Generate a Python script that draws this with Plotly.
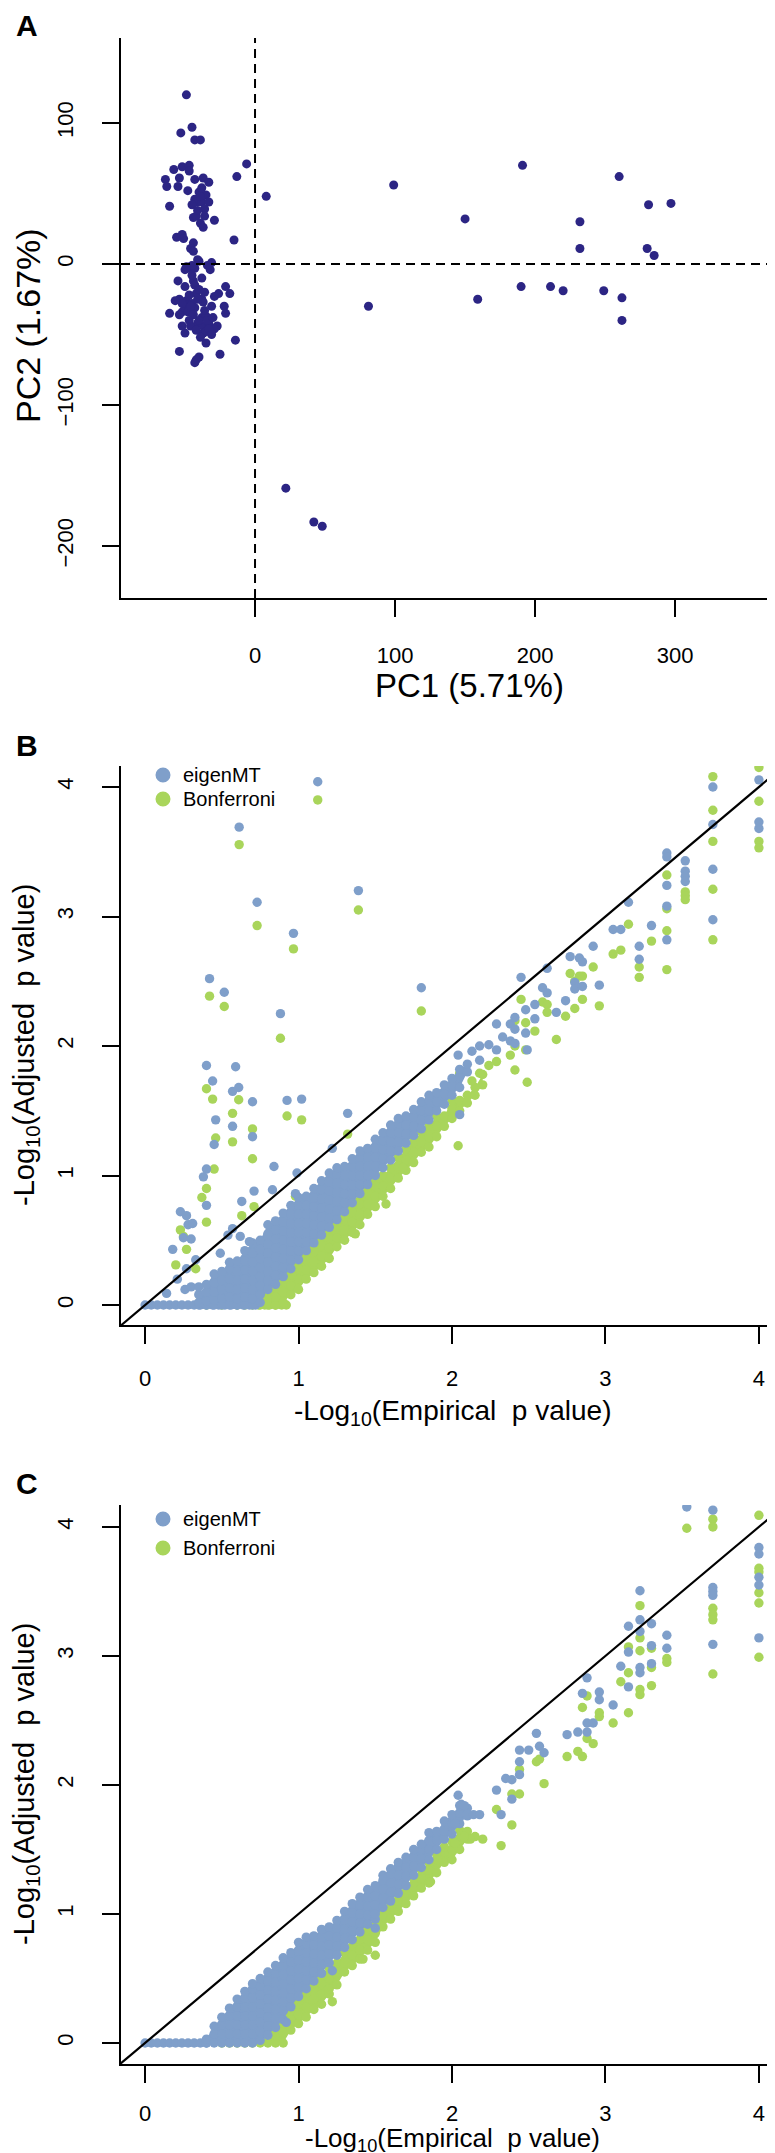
import plotly.graph_objects as go

W, H = 775, 2153
FONT = "Liberation Sans, Arial, Helvetica, sans-serif"
NAVY = "#2C2584"
BLUE = "#7F9FCA"
GREEN = "#A9D55B"

# ---------------- Panel A : PCA ----------------
pca_points = [
    (-49, 120), (-45, 97), (-53, 93), (-43, 88), (-39, 88), (-6, 71), (-13, 62), (8, 48),
    (-64, 60), (-63, 55), (-58, 67), (-52, 69), (-47, 70), (-47, 66), (-54, 61), (-55, 55),
    (-43, 60), (-37, 61), (-33, 58), (-40, 51), (-35, 49), (-43, 46), (-42, 44), (-38, 44),
    (-33, 44), (-61, 41), (-45, 42), (-36, 39), (-44, 33), (-42, 34), (-36, 34), (-29, 31),
    (-39, 29), (-37, 26), (-15, 17), (-56, 19), (-52, 21), (-51, 18), (-44, 15), (-46, 11),
    (-44, 9), (-40, 2), (-47, -3), (-43, -3), (-50, -4), (-31, 1), (-32, -4), (-45, -1),
    (-34, -1), (-50, -16), (-44, -12), (-43, -15), (-21, -16), (-18, -21), (-26, -21),
    (-29, -23), (-54, -25), (-49, -26), (-45, -28), (-42, -21), (-38, -25), (-37, -27),
    (-61, -35), (-52, -34), (-50, -31), (-54, -36), (-48, -34), (-31, -30), (-22, -30),
    (-21, -35), (-43, -31), (-38, -38), (-35, -37), (-41, -42), (-37, -44), (-33, -42),
    (-27, -44), (-29, -46), (-50, -49), (-37, -49), (-35, -48), (-14, -54), (-35, -56),
    (-54, -62), (-25, -64), (-40, -66), (-42, -68), (-43, -70), (-40, -40), (-44, -36),
    (-46, -44), (-42, -47), (-39, -52), (-33, -46), (-36, -33), (-47, -22), (-40, -18),
    (-52, -28), (-57, -26), (-45, -8), (-38, -10), (-48, 52), (-41, 38), (-39, 48),
    (-38, 54), (-41, -25), (-46, -30), (-34, -40), (-31, -50), (-47, -40), (-52, -44),
    (-36, -20), (-55, -12), (-30, -38), (-41, 3), (-49, -2),
    (99, 56), (150, 32), (191, 70), (260, 62), (281, 42), (297, 43), (232, 30), (232, 11),
    (280, 11), (285, 6), (81, -30), (159, -25), (190, -16), (211, -16), (220, -19),
    (249, -19), (262, -24), (262, -40), (22, -159), (42, -183), (48, -186),
]
pca_xticks = [0, 100, 200, 300]
pca_yticks = [-200, -100, 0, 100]

# ---------------- Panel B ----------------
B_zero_blue = [0.0, 0.04, 0.08, 0.12, 0.16, 0.2, 0.24, 0.28, 0.32, 0.36, 0.4, 0.44, 0.48,
               0.52, 0.56, 0.6, 0.64, 0.68, 0.72]
B_zero_green = [0.74, 0.78, 0.81, 0.85, 0.89, 0.92]
B_blue_cols = [
    (0.35, [0.0, 0.02, 0.08]), (0.40, [0.0, 0.03, 0.10, 0.16]), (0.45, [0.0, 0.04, 0.10, 0.17, 0.24]),
    (0.50, [0.0, 0.05, 0.12, 0.19, 0.26]), (0.55, [0.0, 0.06, 0.13, 0.20, 0.28, 0.33]),
    (0.60, [0.0, 0.05, 0.12, 0.19, 0.26, 0.34]), (0.65, [0.0, 0.06, 0.13, 0.20, 0.27, 0.34, 0.42]),
    (0.70, [0.0, 0.05, 0.12, 0.19, 0.26, 0.33, 0.40, 0.48]),
    (0.75, [0.02, 0.08, 0.15, 0.22, 0.29, 0.36, 0.43, 0.50]),
    (0.80, [0.12, 0.19, 0.26, 0.33, 0.40, 0.47, 0.55, 0.62]),
    (0.85, [0.16, 0.23, 0.30, 0.37, 0.44, 0.51, 0.58, 0.65]),
    (0.90, [0.22, 0.29, 0.36, 0.43, 0.50, 0.57, 0.64, 0.71]),
    (0.95, [0.28, 0.35, 0.42, 0.49, 0.56, 0.63, 0.70, 0.77]),
    (1.00, [0.35, 0.42, 0.49, 0.56, 0.63, 0.70, 0.77, 0.83]),
    (1.05, [0.42, 0.49, 0.56, 0.63, 0.70, 0.77, 0.84]),
    (1.10, [0.48, 0.55, 0.62, 0.69, 0.76, 0.83, 0.90]),
    (1.15, [0.54, 0.61, 0.68, 0.75, 0.82, 0.89, 0.96]),
    (1.20, [0.60, 0.67, 0.74, 0.81, 0.88, 0.95, 1.02]),
    (1.25, [0.66, 0.73, 0.80, 0.87, 0.94, 1.01, 1.06]),
    (1.30, [0.72, 0.79, 0.86, 0.93, 1.00, 1.07]),
    (1.35, [0.79, 0.86, 0.93, 1.00, 1.07, 1.13]),
    (1.40, [0.86, 0.93, 1.00, 1.07, 1.14, 1.19]),
    (1.45, [0.93, 1.00, 1.07, 1.14, 1.21]), (1.50, [1.00, 1.07, 1.14, 1.21, 1.28]),
    (1.55, [1.06, 1.13, 1.20, 1.27, 1.33]), (1.60, [1.12, 1.19, 1.26, 1.33, 1.39]),
    (1.65, [1.19, 1.26, 1.33, 1.40, 1.44]), (1.70, [1.25, 1.32, 1.39, 1.46]),
    (1.75, [1.31, 1.38, 1.45, 1.51]), (1.80, [1.36, 1.43, 1.50, 1.57]),
    (1.85, [1.43, 1.50, 1.58, 1.62]), (1.90, [1.50, 1.57, 1.64]),
    (1.95, [1.55, 1.63, 1.70]), (2.00, [1.62, 1.70, 1.75]), (2.05, [1.68, 1.77, 1.82]),
    (2.10, [1.80, 1.86]),
]
B_green_cols = [
    (0.40, [0.0]), (0.50, [0.0, 0.07]), (0.60, [0.0, 0.06, 0.12]), (0.65, [0.0, 0.08, 0.18]),
    (0.70, [0.0, 0.06, 0.15, 0.25]), (0.75, [0.0, 0.07, 0.14, 0.22]),
    (0.80, [0.0, 0.05, 0.12, 0.20, 0.30]), (0.85, [0.0, 0.06, 0.13, 0.22, 0.32]),
    (0.90, [0.02, 0.10, 0.18, 0.27, 0.36]), (0.95, [0.08, 0.15, 0.23, 0.31, 0.40]),
    (1.00, [0.12, 0.20, 0.28, 0.36, 0.45]), (1.05, [0.20, 0.27, 0.35, 0.43, 0.50]),
    (1.10, [0.25, 0.33, 0.41, 0.49, 0.57]), (1.15, [0.30, 0.38, 0.46, 0.54, 0.62]),
    (1.20, [0.36, 0.44, 0.52, 0.60, 0.68]), (1.25, [0.45, 0.52, 0.60, 0.68]),
    (1.30, [0.50, 0.58, 0.66, 0.74]), (1.35, [0.56, 0.64, 0.72, 0.80]),
    (1.40, [0.62, 0.70, 0.78, 0.86]), (1.45, [0.70, 0.78, 0.86, 0.94]),
    (1.50, [0.76, 0.84, 0.92, 1.00]), (1.55, [0.84, 0.92, 1.00]), (1.60, [0.90, 0.98, 1.06]),
    (1.65, [0.98, 1.06, 1.14]), (1.70, [1.04, 1.12, 1.20]), (1.75, [1.10, 1.18, 1.26]),
    (1.80, [1.18, 1.26, 1.34]), (1.85, [1.22, 1.30, 1.38]), (1.90, [1.30, 1.38, 1.46]),
    (1.95, [1.38, 1.46]), (2.00, [1.44, 1.52, 1.58]), (2.05, [1.50, 1.58]),
    (2.10, [1.56, 1.62]), (2.15, [1.62, 1.68]), (2.20, [1.70, 1.78]),
]
B_blue_sparse = [
    (1.125, 4.04), (0.613, 3.69), (0.73, 3.11), (1.39, 3.20), (0.967, 2.87), (0.42, 2.52),
    (0.516, 2.415), (0.882, 2.25), (1.80, 2.45), (0.40, 1.85), (0.44, 1.73), (0.59, 1.84),
    (0.61, 1.68), (0.57, 1.65), (0.925, 1.58), (1.02, 1.59), (0.70, 1.57), (1.32, 1.48),
    (0.46, 1.43), (0.57, 1.38), (0.70, 1.30), (0.45, 1.24), (0.40, 1.05), (0.38, 0.99),
    (0.84, 1.07), (0.40, 0.77), (0.71, 0.88), (0.63, 0.80), (0.23, 0.72), (0.27, 0.69),
    (0.28, 0.62), (0.31, 0.63), (0.18, 0.43), (0.25, 0.52), (0.30, 0.51), (0.14, 0.09),
    (0.26, 0.12), (0.30, 0.14), (0.35, 0.14), (0.27, 0.28), (0.33, 0.35), (0.21, 0.20),
    (0.98, 0.86), (0.57, 0.59), (0.62, 0.53), (0.54, 0.54), (0.68, 0.49), (0.49, 0.40),
    (0.99, 1.02), (1.22, 1.21), (0.83, 0.89),
    (2.13, 1.96), (2.18, 2.00), (2.18, 1.89), (2.24, 2.01), (2.29, 2.17), (2.29, 1.97),
    (2.33, 2.07), (2.38, 2.17), (2.38, 2.04), (2.41, 2.22), (2.41, 2.13), (2.41, 2.02),
    (2.45, 2.53), (2.48, 2.28), (2.48, 2.10), (2.49, 1.97), (2.54, 2.32), (2.54, 2.21),
    (2.59, 2.45), (2.62, 2.60), (2.62, 2.41), (2.68, 2.26), (2.74, 2.35), (2.77, 2.69),
    (2.80, 2.49), (2.80, 2.44), (2.83, 2.68), (2.85, 2.65), (2.85, 2.46), (2.92, 2.77),
    (2.96, 2.47), (3.05, 2.90), (3.10, 2.90), (3.15, 3.11), (3.22, 2.77), (3.22, 2.67),
    (3.30, 2.93), (3.40, 3.49), (3.40, 3.46), (3.40, 3.24), (3.40, 3.08), (3.40, 2.82),
    (3.52, 3.43), (3.52, 3.35), (3.52, 3.31), (3.52, 3.27), (3.70, 4.00), (3.70, 3.71),
    (3.70, 3.365), (3.70, 2.975), (4.00, 4.055), (4.00, 3.73), (4.00, 3.68),
    (2.04, 1.93), (2.05, 1.47),
]
B_green_sparse = [
    (1.125, 3.90), (0.613, 3.555), (0.73, 2.93), (1.39, 3.05), (0.967, 2.75), (0.42, 2.385),
    (0.516, 2.305), (0.882, 2.06), (1.80, 2.27), (0.40, 1.67), (0.44, 1.59), (0.61, 1.585),
    (0.57, 1.48), (0.925, 1.46), (1.02, 1.43), (0.70, 1.36), (1.32, 1.32), (0.46, 1.29),
    (0.57, 1.26), (0.70, 1.13), (0.45, 1.05), (0.40, 0.90), (0.37, 0.83), (0.40, 0.64),
    (0.71, 0.76), (0.63, 0.69), (0.23, 0.58), (0.25, 0.53), (0.20, 0.31), (0.27, 0.43),
    (0.33, 0.28), (0.36, 0.07), (1.37, 0.55), (1.57, 0.78), (1.68, 1.06), (0.98, 0.84),
    (2.13, 1.73), (2.05, 1.79), (2.18, 1.79), (2.24, 1.85), (2.29, 1.88), (2.38, 1.93),
    (2.41, 2.195), (2.41, 2.00), (2.41, 1.815), (2.45, 2.36), (2.48, 2.18), (2.48, 1.97),
    (2.49, 1.72), (2.54, 2.115), (2.59, 2.34), (2.62, 2.32), (2.62, 2.26), (2.68, 2.05),
    (2.74, 2.23), (2.77, 2.56), (2.80, 2.50), (2.80, 2.29), (2.83, 2.54), (2.85, 2.54),
    (2.85, 2.36), (2.92, 2.61), (2.96, 2.31), (3.05, 2.71), (3.10, 2.74), (3.15, 2.94),
    (3.22, 2.61), (3.22, 2.53), (3.30, 2.81), (3.40, 3.32), (3.40, 3.06), (3.40, 2.89),
    (3.40, 2.59), (3.52, 3.19), (3.52, 3.16), (3.52, 3.13), (3.70, 4.08), (3.70, 3.82),
    (3.70, 3.58), (3.70, 3.21), (3.70, 2.82), (4.00, 4.15), (4.00, 3.89), (4.00, 3.58),
    (4.00, 3.53), (2.04, 1.23),
]

# ---------------- Panel C ----------------
C_zero_blue = [0.0, 0.04, 0.08, 0.12, 0.16, 0.2, 0.24, 0.28, 0.32, 0.36, 0.4]
C_blue_cols = [
    (0.40, [0.0, 0.03]), (0.45, [0.0, 0.07, 0.13]), (0.50, [0.0, 0.07, 0.14, 0.20]),
    (0.55, [0.0, 0.07, 0.14, 0.21, 0.27]), (0.60, [0.0, 0.07, 0.14, 0.21, 0.28, 0.34]),
    (0.65, [0.0, 0.07, 0.14, 0.21, 0.28, 0.35, 0.40]),
    (0.70, [0.0, 0.07, 0.14, 0.21, 0.28, 0.35, 0.42, 0.46]),
    (0.75, [0.02, 0.09, 0.16, 0.23, 0.30, 0.37, 0.44, 0.50]),
    (0.80, [0.06, 0.13, 0.20, 0.27, 0.34, 0.41, 0.48, 0.55]),
    (0.85, [0.12, 0.19, 0.26, 0.33, 0.40, 0.47, 0.54, 0.60]),
    (0.90, [0.18, 0.25, 0.32, 0.39, 0.46, 0.53, 0.60, 0.66]),
    (0.95, [0.28, 0.35, 0.42, 0.49, 0.56, 0.63, 0.70]),
    (1.00, [0.36, 0.43, 0.50, 0.57, 0.64, 0.71, 0.78]),
    (1.05, [0.42, 0.49, 0.56, 0.63, 0.70, 0.77, 0.82]),
    (1.10, [0.48, 0.55, 0.62, 0.69, 0.76, 0.83]),
    (1.15, [0.54, 0.61, 0.68, 0.75, 0.82, 0.88]),
    (1.20, [0.62, 0.69, 0.76, 0.83, 0.90]), (1.25, [0.68, 0.75, 0.82, 0.89, 0.95]),
    (1.30, [0.74, 0.81, 0.88, 0.95, 1.02]), (1.35, [0.80, 0.87, 0.94, 1.01, 1.08]),
    (1.40, [0.86, 0.93, 1.00, 1.07, 1.13]), (1.45, [0.92, 0.99, 1.06, 1.13, 1.19]),
    (1.50, [0.96, 1.00, 1.07, 1.14, 1.22]), (1.55, [1.05, 1.12, 1.19, 1.26, 1.30]),
    (1.60, [1.10, 1.17, 1.24, 1.31, 1.35]), (1.65, [1.16, 1.23, 1.30, 1.37, 1.40]),
    (1.70, [1.22, 1.29, 1.36, 1.44]), (1.75, [1.30, 1.37, 1.44, 1.50]),
    (1.80, [1.36, 1.43, 1.50, 1.54]), (1.85, [1.42, 1.50, 1.57, 1.63]),
    (1.90, [1.50, 1.57, 1.64]), (1.95, [1.58, 1.64, 1.72]), (2.00, [1.62, 1.70, 1.77]),
    (2.05, [1.70, 1.78, 1.84]), (2.10, [1.76, 1.82]),
]
C_green_cols = [
    (0.50, [0.0]), (0.55, [0.0]), (0.60, [0.0, 0.05]), (0.65, [0.0]), (0.70, [0.0, 0.05]),
    (0.75, [0.0, 0.06]), (0.80, [0.0, 0.05, 0.12]), (0.85, [0.0, 0.06, 0.14, 0.20]),
    (0.90, [0.0, 0.08, 0.15, 0.22, 0.30]), (0.95, [0.10, 0.18, 0.25, 0.32]),
    (1.00, [0.15, 0.22, 0.30, 0.38]), (1.05, [0.20, 0.28, 0.36, 0.44]),
    (1.10, [0.26, 0.34, 0.42, 0.50]), (1.15, [0.30, 0.38, 0.46, 0.54]),
    (1.20, [0.38, 0.42, 0.50, 0.58]), (1.25, [0.45, 0.53, 0.62]), (1.30, [0.55, 0.62, 0.70]),
    (1.35, [0.60, 0.68, 0.75]), (1.40, [0.65, 0.72, 0.80, 0.88]), (1.45, [0.72, 0.80, 0.88]),
    (1.50, [0.78, 0.85, 0.92, 1.00]), (1.55, [0.90, 0.98, 1.05]), (1.60, [0.96, 1.04, 1.10]),
    (1.65, [1.02, 1.10, 1.16]), (1.70, [1.08, 1.16, 1.22]), (1.75, [1.14, 1.22, 1.28]),
    (1.80, [1.20, 1.28, 1.34]), (1.85, [1.24, 1.34, 1.40]), (1.90, [1.32, 1.40, 1.46]),
    (1.95, [1.40, 1.48]), (2.00, [1.42, 1.50, 1.56]), (2.05, [1.50, 1.58, 1.65]),
    (2.10, [1.58, 1.64]), (2.15, [1.60]), (2.20, [1.58]),
]
C_blue_sparse = [
    (3.53, 4.155), (3.70, 4.13), (3.70, 3.53), (3.70, 3.50), (3.70, 3.47), (3.70, 3.09),
    (4.00, 3.84), (4.00, 3.79), (4.00, 3.61), (4.00, 3.55), (4.00, 3.14), (3.225, 3.505),
    (3.225, 3.28), (3.225, 3.19), (3.225, 2.91), (3.225, 2.87), (3.15, 3.23), (3.15, 3.03),
    (3.15, 2.76), (3.30, 3.25), (3.30, 3.08), (3.30, 2.94), (3.40, 3.16), (3.40, 3.06),
    (3.10, 2.92), (3.05, 2.62), (2.96, 2.72), (2.96, 2.66), (2.88, 2.83), (2.88, 2.48),
    (2.88, 2.41), (2.85, 2.71), (2.82, 2.41), (2.92, 2.48), (2.75, 2.39), (2.60, 2.25),
    (2.55, 2.40), (2.57, 2.30), (2.50, 2.27), (2.44, 2.27), (2.44, 2.18), (2.44, 2.08),
    (2.39, 2.04), (2.39, 1.89), (2.35, 2.05), (2.29, 1.96), (2.32, 1.77), (2.04, 1.92),
    (2.06, 1.85), (2.08, 1.84), (2.10, 1.77), (2.14, 1.77), (2.18, 1.77), (2.02, 1.70),
    (0.92, 0.16), (1.22, 0.56), (1.50, 0.89),
]
C_green_sparse = [
    (3.53, 3.99), (3.70, 4.06), (3.70, 4.00), (3.70, 3.37), (3.70, 3.32), (3.70, 3.28),
    (3.70, 2.86), (4.00, 4.09), (4.00, 3.68), (4.00, 3.65), (4.00, 3.49), (4.00, 3.41),
    (4.00, 2.99), (3.225, 3.39), (3.225, 3.14), (3.225, 3.04), (3.225, 2.74), (3.225, 2.70),
    (3.15, 3.07), (3.15, 2.87), (3.15, 2.56), (3.30, 2.91), (3.30, 2.77), (3.30, 3.06),
    (3.40, 2.98), (3.40, 2.95), (3.10, 2.80), (3.05, 2.48), (2.96, 2.56), (2.96, 2.53),
    (2.88, 2.69), (2.88, 2.36), (2.85, 2.60), (2.85, 2.22), (2.82, 2.26), (2.92, 2.32),
    (2.75, 2.22), (2.60, 2.01), (2.55, 2.18), (2.57, 2.20), (2.44, 2.12), (2.44, 1.93),
    (2.39, 1.93), (2.39, 1.69), (2.29, 1.81), (2.32, 1.53), (2.12, 1.58), (2.08, 1.60),
    (2.02, 1.55), (1.95, 1.52), (1.90, 1.42), (1.86, 1.25), (1.50, 0.68), (1.42, 0.65),
    (1.22, 0.32),
]
pval_ticks = [0, 1, 2, 3, 4]
series_names = ["eigenMT", "Bonferroni"]


def flatten(zero_x, cols, sparse):
    xs = list(zero_x) + [c for c, ys in cols for _ in ys] + [p[0] for p in sparse]
    ys = [0.0] * len(zero_x) + [y for _, ys_ in cols for y in ys_] + [p[1] for p in sparse]
    return xs, ys


def hull_of_cols(cols):
    # outline of the overplotted dense columns (min / max of each column)
    xs = [c for c, _ in cols] + [c for c, _ in reversed(cols)]
    ys = [min(v) for _, v in cols] + [max(v) for _, v in reversed(cols)]
    return xs, ys


def px2paper_x(px):
    return px / W


def px2paper_y(py):
    return 1 - py / H


fig = go.Figure()

# Panel A
fig.add_trace(go.Scatter(x=[p[0] for p in pca_points], y=[p[1] for p in pca_points],
                         mode="markers", marker=dict(color=NAVY, size=9),
                         xaxis="x", yaxis="y", showlegend=False))

# Panels B and C
DOT = 9.4
panels = [
    ("x2", "y2", (B_zero_blue, B_blue_cols, B_blue_sparse), (B_zero_green, B_green_cols, B_green_sparse)),
    ("x3", "y3", (C_zero_blue, C_blue_cols, C_blue_sparse), ([], C_green_cols, C_green_sparse)),
]
for xa, ya, blue, green in panels:
    for (zero, cols, sparse), col, name in [(green, GREEN, series_names[1]),
                                            (blue, BLUE, series_names[0])]:
        hx, hy = hull_of_cols(cols)
        fig.add_trace(go.Scatter(x=hx, y=hy, mode="lines", fill="toself", fillcolor=col,
                                 line=dict(width=0, color=col), xaxis=xa, yaxis=ya,
                                 showlegend=False, hoverinfo="skip"))
        px_, py_ = flatten(zero, cols, sparse)
        fig.add_trace(go.Scatter(x=px_, y=py_, mode="markers", marker=dict(color=col, size=DOT),
                                 xaxis=xa, yaxis=ya, showlegend=False, name=name))

# axis geometry (pixel layout)
X_LEFT, X_RIGHT = 113, 775
panel_px = {"A": (30, 590), "B": (758, 1317), "C": (1497, 2056)}
A_xrange = [-95.7, 377]
A_yrange = [-236.9, 160.3]
B_xrange = [-0.157, 4.157]
B_yrange = [-0.154, 4.162]
C_yrange = [-0.163, 4.17]

for xa, ya in [("x2", "y2"), ("x3", "y3")]:
    lo, hi = B_xrange
    fig.add_trace(go.Scatter(x=[lo - 0.1, hi + 0.1], y=[lo - 0.1, hi + 0.1], mode="lines",
                             line=dict(color="black", width=2.2),
                             xaxis=xa, yaxis=ya, showlegend=False, hoverinfo="skip"))

common = dict(showline=True, linecolor="black", linewidth=2, ticks="outside", ticklen=17,
              tickwidth=2, tickcolor="black", showgrid=False, zeroline=False,
              tickfont=dict(family=FONT, size=22, color="black"), mirror=False)
xdom = [px2paper_x(X_LEFT), px2paper_x(X_RIGHT)]


def ydom(key):
    t, b = panel_px[key]
    return [px2paper_y(b), px2paper_y(t)]


fig.update_layout(
    width=W, height=H, margin=dict(l=0, r=0, t=0, b=0),
    paper_bgcolor="white", plot_bgcolor="white", showlegend=False,
    xaxis=dict(domain=xdom, range=A_xrange, tickvals=pca_xticks, anchor="y",
               ticklabelstandoff=20, **common),
    yaxis=dict(domain=ydom("A"), range=A_yrange, tickvals=pca_yticks, anchor="x",
               tickangle=-90, ticklabelstandoff=20, **common),
    xaxis2=dict(domain=xdom, range=B_xrange, tickvals=pval_ticks, anchor="y2",
                ticklabelstandoff=16, **common),
    yaxis2=dict(domain=ydom("B"), range=B_yrange, tickvals=pval_ticks, anchor="x2",
                tickangle=-90, ticklabelstandoff=20, **common),
    xaxis3=dict(domain=xdom, range=B_xrange, tickvals=pval_ticks, anchor="y3",
                ticklabelstandoff=12, **common),
    yaxis3=dict(domain=ydom("C"), range=C_yrange, tickvals=pval_ticks, anchor="x3",
                tickangle=-90, ticklabelstandoff=20, **common),
)

# reference dashed lines (abline h=0, v=0) in panel A
fig.add_shape(type="line", xref="x", yref="y domain", x0=0, x1=0, y0=0, y1=1,
              line=dict(color="black", width=2, dash="9px,6px"))
fig.add_shape(type="line", xref="x domain", yref="y", x0=0, x1=1, y0=0, y1=0,
              line=dict(color="black", width=2, dash="9px,6px"))

ann = []


def add_text(text, xpx, ypx, size, angle=0, xanchor="center", bold=False):
    ann.append(dict(text=f"<b>{text}</b>" if bold else text, x=px2paper_x(xpx),
                    y=px2paper_y(ypx), xref="paper", yref="paper", showarrow=False,
                    textangle=angle, xanchor=xanchor, yanchor="middle",
                    font=dict(family=FONT, size=size, color="black")))


add_text("A", 6, 18, 30, xanchor="left", bold=True)
add_text("B", 6, 737, 30, xanchor="left", bold=True)
add_text("C", 6, 1475, 30, xanchor="left", bold=True)
add_text("PC1 (5.71%)", 462, 677, 33)
add_text("PC2 (1.67%)", 20, 318, 34, angle=-90)
xt = "-Log<sub>10</sub>(Empirical  p value)"
yt = "-Log<sub>10</sub>(Adjusted  p value)"
add_text(xt, 444, 1404, 28)
add_text(yt, 18, 1037, 29, angle=-90)
add_text(xt, 444, 2131, 26)
add_text(yt, 18, 1776, 29, angle=-90)

# legends
for (y1, y2) in [(767, 791), (1511, 1540)]:
    for yy, col, name in [(y1, BLUE, series_names[0]), (y2, GREEN, series_names[1])]:
        r = 7.5
        fig.add_shape(type="circle", xref="paper", yref="paper",
                      x0=px2paper_x(155 - r), x1=px2paper_x(155 + r),
                      y0=px2paper_y(yy + r), y1=px2paper_y(yy - r),
                      fillcolor=col, line=dict(width=0))
        add_text(name, 173, yy, 20, xanchor="left")

fig.update_layout(annotations=ann)
fig.write_html("out.html")
